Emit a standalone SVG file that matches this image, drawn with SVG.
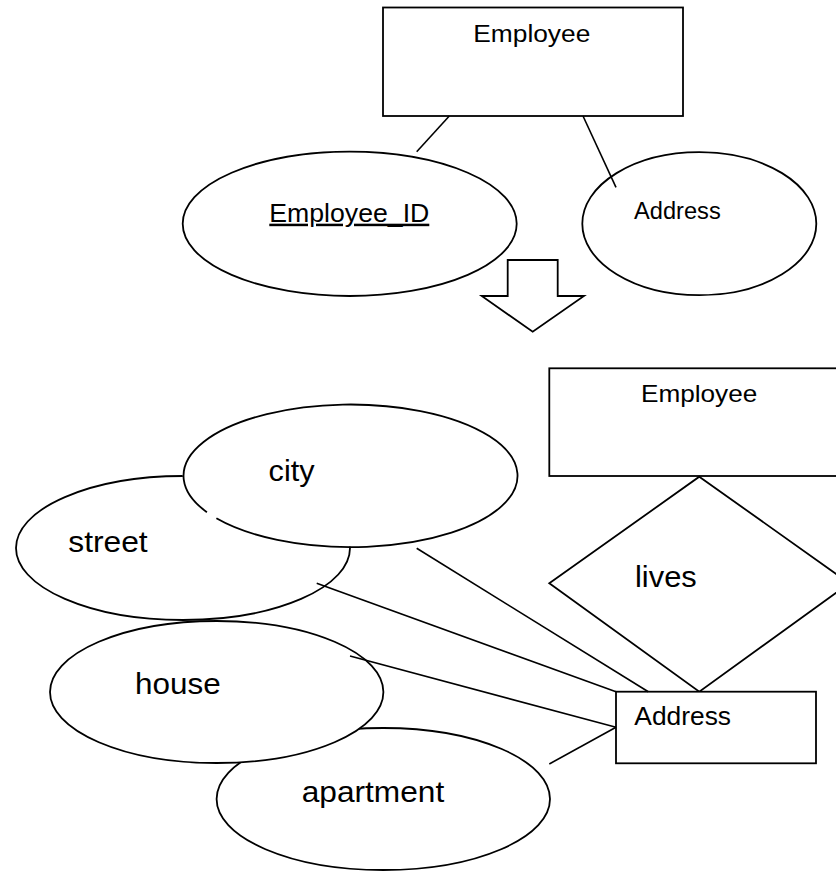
<svg xmlns="http://www.w3.org/2000/svg" width="836" height="871" viewBox="0 0 836 871">
  <style>
    .shape { fill: #ffffff; stroke: #000000; stroke-width: 1.8; }
    .fillonly { fill: #ffffff; stroke: none; }
    .outline { fill: none; stroke: #000000; stroke-width: 1.8; }
    .conn line { stroke: #000000; stroke-width: 1.6; }
    text { font-family: "Liberation Sans", Arial, sans-serif; fill: #000000; }
  </style>
  <rect x="0" y="0" width="836" height="871" fill="#ffffff"/>

  <!-- top diagram -->
  <g id="employee-top">
    <rect class="shape" x="383" y="7.5" width="300" height="108.5"/>
    <text x="473.3" y="41.7" font-size="23" textLength="117" lengthAdjust="spacingAndGlyphs">Employee</text>
  </g>
  <g id="employee-id">
    <ellipse class="shape" cx="349.7" cy="223.8" rx="167" ry="72.2"/>
    <text x="269.3" y="221.7" font-size="25" text-decoration="underline" textLength="160" lengthAdjust="spacingAndGlyphs">Employee_ID</text>
  </g>
  <g id="address-top">
    <ellipse class="shape" cx="699.3" cy="223.7" rx="117" ry="71.5"/>
    <text x="634" y="219" font-size="23" textLength="86.7" lengthAdjust="spacingAndGlyphs">Address</text>
  </g>

  <g id="transform-arrow">
    <polygon class="shape" points="507.7,260 557.7,260 557.7,296 584,296 532.7,331.7 481.7,296 507.7,296"/>
  </g>

  <!-- bottom diagram -->
  <g id="employee-bottom">
    <rect class="shape" x="549.3" y="368.3" width="300" height="107.7"/>
    <text x="641" y="401.7" font-size="24" textLength="116.3" lengthAdjust="spacingAndGlyphs">Employee</text>
  </g>
  <g id="lives">
    <polygon class="shape" points="699.3,476.7 849.3,583.3 699.3,691.7 549.3,583.3"/>
    <text x="635" y="586.7" font-size="30" textLength="61.7" lengthAdjust="spacingAndGlyphs">lives</text>
  </g>
  <g id="address-bottom">
    <rect class="shape" x="616" y="691.7" width="200" height="71.6"/>
    <text x="634.3" y="725" font-size="25" textLength="96.7" lengthAdjust="spacingAndGlyphs">Address</text>
  </g>
  <g id="street">
    <ellipse class="shape" cx="183" cy="548" rx="167" ry="72"/>
    <text x="68.3" y="551.7" font-size="30" textLength="79.4" lengthAdjust="spacingAndGlyphs">street</text>
  </g>
  <g id="city">
    <ellipse class="fillonly" cx="349.7" cy="475.3" rx="167" ry="71.3"/>
    <path class="outline" d="M216.4 518.3 A167 71.3 0 1 0 206.9 512.2"/>
    <text x="268.6" y="481" font-size="30" textLength="46" lengthAdjust="spacingAndGlyphs">city</text>
  </g>
  <g id="apartment">
    <ellipse class="shape" cx="383.3" cy="799" rx="166.7" ry="71"/>
    <text x="301.7" y="801.7" font-size="30" textLength="142.6" lengthAdjust="spacingAndGlyphs">apartment</text>
  </g>
  <g id="house">
    <ellipse class="shape" cx="216.7" cy="692" rx="166.7" ry="71"/>
    <text x="135" y="694" font-size="30" textLength="85.7" lengthAdjust="spacingAndGlyphs">house</text>
  </g>

  <g id="connectors" class="conn">
    <line x1="449.3" y1="116" x2="416.7" y2="151.7"/>
    <line x1="583" y1="116" x2="616" y2="187.3"/>
    <line x1="416.7" y1="548.3" x2="648.3" y2="691.7"/>
    <line x1="316.7" y1="583.3" x2="616" y2="691.7"/>
    <line x1="350" y1="656" x2="616" y2="727.3"/>
    <line x1="549.3" y1="764" x2="616" y2="727.3"/>
  </g>
</svg>
